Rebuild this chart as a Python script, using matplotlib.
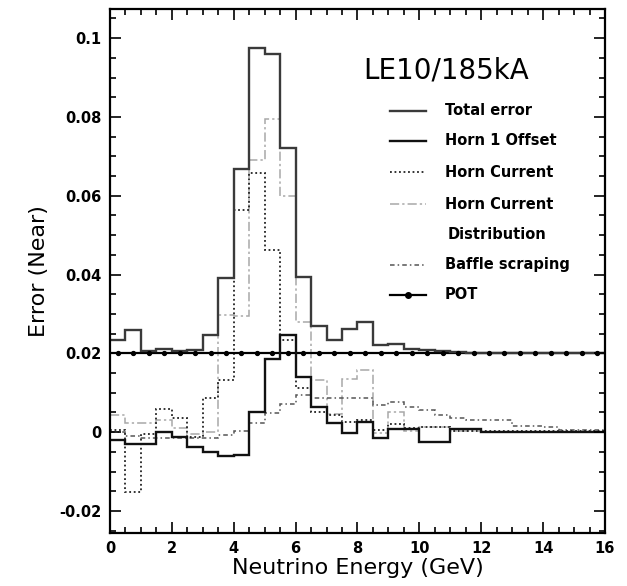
import matplotlib
matplotlib.use("Agg")
import matplotlib.pyplot as plt
import numpy as np
from matplotlib.ticker import MultipleLocator

# bin edges (0.5 GeV bins, 0-16 GeV)
edges = np.linspace(0, 16, 33)
centers = 0.5 * (edges[:-1] + edges[1:])

# errors, one value per bin
total_err = [0.0233, 0.0259, 0.0205, 0.0212, 0.0206, 0.0208, 0.0246, 0.0390,
             0.0669, 0.0974, 0.0961, 0.0720, 0.0395, 0.0270, 0.0234, 0.0263,
             0.0280, 0.0222, 0.0224, 0.0211, 0.0209, 0.0206, 0.0203, 0.0202,
             0.0201, 0.0201, 0.0200, 0.0200, 0.0200, 0.0200, 0.0200, 0.0200]

horn1_offset = [-0.0020, -0.0030, -0.0030, 0.0001, -0.0012, -0.0037, -0.0050, -0.0061,
                -0.0058, 0.0052, 0.0186, 0.0246, 0.0140, 0.0064, 0.0023, -0.0003,
                0.0027, -0.0016, 0.0009, 0.0009, -0.0025, -0.0025, 0.0009, 0.0009,
                0.0001, 0.0001, 0.0001, 0.0001, 0.0001, 0.0001, 0.0001, 0.0001]

horn_current = [0.0005, -0.0152, -0.0005, 0.0060, 0.0035, -0.0012, 0.0086, 0.0132,
                0.0563, 0.0657, 0.0462, 0.0233, 0.0111, 0.0050, 0.0043, 0.0025,
                0.0030, 0.0005, 0.0020, 0.0010, 0.0013, 0.0012, 0.0004, 0.0004,
                0.0002, 0.0002, 0.0002, 0.0002, 0.0002, 0.0002, 0.0002, 0.0002]

horn_current_dist = [0.0043, 0.0023, 0.0023, 0.0030, 0.0010, -0.0005, 0.0000, 0.0297,
                     0.0295, 0.0690, 0.0796, 0.0600, 0.0280, 0.0132, 0.0047, 0.0136,
                     0.0157, -0.0003, 0.0050, 0.0003, 0.0013, 0.0013, 0.0002, 0.0002,
                     0.0001, 0.0001, 0.0001, 0.0001, 0.0001, 0.0001, 0.0001, 0.0001]

baffle = [0.0000, -0.0010, -0.0016, -0.0016, -0.0016, -0.0016, -0.0014, -0.0008,
          0.0002, 0.0023, 0.0048, 0.0071, 0.0095, 0.0086, 0.0086, 0.0086,
          0.0086, 0.0069, 0.0077, 0.0064, 0.0056, 0.0043, 0.0037, 0.0030,
          0.0030, 0.0030, 0.0015, 0.0015, 0.0013, 0.0005, 0.0005, 0.0005]

pot = [0.02] * 32

fig = plt.figure(figsize=(6.27, 5.86), dpi=100)
ax = fig.add_axes([0.1754, 0.0904, 0.7895, 0.8936])

# styles
st_total = dict(color="#3a3a3a", lw=1.7, ls="-")
st_horn1 = dict(color="#111111", lw=1.7, ls="-")
st_cur = dict(color="#222222", lw=1.3, ls=(0, (1, 1.5)))
st_dist = dict(color="#a8a8a8", lw=1.1, ls=(0, (6, 2, 1.5, 2)))
st_baf = dict(color="#555555", lw=1.1, ls=(0, (3, 2, 1, 2)))

ax.stairs(horn_current_dist, edges, baseline=None, **st_dist)
ax.stairs(baffle, edges, baseline=None, **st_baf)
ax.stairs(horn_current, edges, baseline=None, **st_cur)
ax.stairs(pot, edges, baseline=None, color="black", lw=1.6)
ax.plot(centers, pot, "o", color="black", ms=2.8)
ax.stairs(horn1_offset, edges, baseline=None, **st_horn1)
ax.stairs(total_err, edges, baseline=None, **st_total)

ax.set_xlim(0, 16)
ax.set_ylim(-0.0256, 0.1073)
ax.xaxis.set_major_locator(MultipleLocator(2))
ax.xaxis.set_minor_locator(MultipleLocator(0.5))
ax.yaxis.set_major_locator(MultipleLocator(0.02))
ax.yaxis.set_minor_locator(MultipleLocator(0.005))
ax.tick_params(which="both", direction="in", top=True, right=True, width=1.2)
ax.tick_params(which="major", length=8, labelsize=10.5, pad=6)
ax.tick_params(which="minor", length=4)
for lab in ax.get_xticklabels() + ax.get_yticklabels():
    lab.set_fontweight("bold")
ax.set_yticks([-0.02, 0, 0.02, 0.04, 0.06, 0.08, 0.1])
ax.set_yticklabels(["-0.02", "0", "0.02", "0.04", "0.06", "0.08", "0.1"], fontweight="bold")
for sp in ax.spines.values():
    sp.set_linewidth(1.6)

ax.set_xlabel("Neutrino Energy (GeV)", fontsize=16)
ax.set_ylabel("Error (Near)", fontsize=16)
ax.xaxis.set_label_coords(0.5, -0.047)
ax.yaxis.set_label_coords(-0.123, 0.5)

# legend drawn by hand to match the original layout
ax.text(0.512, 0.884, "LE10/185kA", transform=ax.transAxes, fontsize=20,
        va="center", ha="left")
leg_rows = [("Total error", st_total, 0.806),
            ("Horn 1 Offset", st_horn1, 0.749),
            ("Horn Current", st_cur, 0.689),
            ("Horn Current", st_dist, 0.628),
            ("Baffle scraping", st_baf, 0.512)]
for txt, st, yy in leg_rows:
    ax.plot([0.566, 0.638], [yy, yy], transform=ax.transAxes, **st)
    ax.text(0.676, yy, txt, transform=ax.transAxes, fontsize=10.5,
            fontweight="bold", va="center", ha="left")
ax.text(0.683, 0.571, "Distribution", transform=ax.transAxes, fontsize=10.5,
        fontweight="bold", va="center", ha="left")
ax.plot([0.566, 0.638], [0.455, 0.455], transform=ax.transAxes, color="black", lw=1.6)
ax.plot([0.602], [0.455], "o", transform=ax.transAxes, color="black", ms=4)
ax.text(0.676, 0.455, "POT", transform=ax.transAxes, fontsize=10.5,
        fontweight="bold", va="center", ha="left")

fig.savefig("out.png", dpi=100)
